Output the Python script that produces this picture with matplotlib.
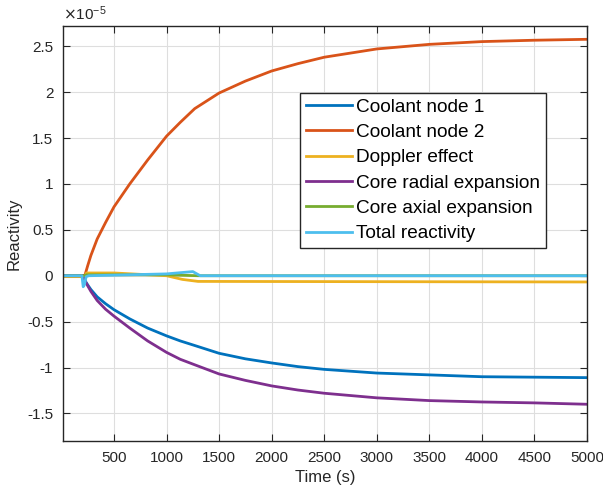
import numpy as np
import matplotlib
matplotlib.use("Agg")
import matplotlib.pyplot as plt

plt.rcParams['font.family'] = ['Liberation Sans', 'DejaVu Sans']

# 値は 1e-5 単位
t_main = [15, 215, 222, 250, 280, 340, 420, 500, 650, 820, 1000, 1130, 1268,
          1500, 1750, 2000, 2250, 2500, 3000, 3500, 4000, 4500, 5000]
coolant1 = [0, 0, -0.05, -0.10, -0.15, -0.23, -0.305, -0.37, -0.47, -0.57, -0.655, -0.71, -0.76,
            -0.845, -0.905, -0.95, -0.99, -1.02, -1.06, -1.08, -1.10, -1.105, -1.11]
coolant2 = [0, 0, 0, 0.11, 0.22, 0.40, 0.58, 0.75, 1.0, 1.26, 1.52, 1.67, 1.82,
            1.99, 2.12, 2.23, 2.31, 2.38, 2.47, 2.52, 2.55, 2.565, 2.575]
radial = [0, 0, -0.05, -0.11, -0.17, -0.27, -0.365, -0.44, -0.57, -0.71, -0.835, -0.91, -0.97,
          -1.07, -1.14, -1.20, -1.245, -1.28, -1.33, -1.36, -1.375, -1.385, -1.40]

t_doppler = [15, 215, 240, 500, 1000, 1150, 1300, 5000]
doppler = [-0.01, -0.01, 0.03, 0.03, 0.0, -0.04, -0.062, -0.068]

t_axial = [15, 215, 240, 1000, 1300, 5000]
axial = [0, 0, 0.01, 0.01, 0.0, 0.0]

t_total = [15, 195, 207, 218, 235, 260, 1000, 1250, 1320, 5000]
total = [0, 0, -0.12, -0.10, -0.01, 0.0, 0.02, 0.045, 0.0, 0.0]

x_ticks = [500, 1000, 1500, 2000, 2500, 3000, 3500, 4000, 4500, 5000]
y_ticks = [-1.5, -1, -0.5, 0, 0.5, 1, 1.5, 2, 2.5]

colors = ['#0072BD', '#D95319', '#EDB120', '#7E2F8E', '#77AC30', '#4DBEEE']

fig = plt.figure(figsize=(6.03, 4.97), dpi=100)
ax = fig.add_axes([0.1045, 0.1127, 0.869, 0.835])

lw = 2.0
ax.plot(t_main, coolant1, color=colors[0], lw=lw, label='Coolant node 1')
ax.plot(t_main, coolant2, color=colors[1], lw=lw, label='Coolant node 2')
ax.plot(t_doppler, doppler, color=colors[2], lw=lw, label='Doppler effect')
ax.plot(t_main, radial, color=colors[3], lw=lw, label='Core radial expansion')
ax.plot(t_axial, axial, color=colors[4], lw=lw, label='Core axial expansion')
ax.plot(t_total, total, color=colors[5], lw=lw, label='Total reactivity')

ax.set_xlim(15, 5000)
ax.set_ylim(-1.8, 2.72)
ax.set_xticks(x_ticks)
ax.set_yticks(y_ticks)
ax.set_yticklabels([f'{v:g}' for v in y_ticks])
ax.grid(True, color='#dedede', lw=0.8)
ax.set_axisbelow(True)

ax.tick_params(direction='in', length=5, width=0.8, top=True, right=True,
               labelsize=11, colors='#262626', pad=7)
for s in ax.spines.values():
    s.set_color('#262626')
    s.set_linewidth(1.0)

ax.set_xlabel('Time (s)', fontsize=12, color='#262626')
ax.set_ylabel('Reactivity', fontsize=12, color='#262626')
ax.text(0.0, 1.008, r'$\times\mathregular{10^{-5}}$', transform=ax.transAxes,
        fontsize=11, color='#262626', ha='left', va='bottom')

leg = ax.legend(loc='upper left', bbox_to_anchor=(0.452, 0.839), borderaxespad=0,
                fontsize=13.7, fancybox=False, framealpha=1, edgecolor='#262626',
                handlelength=2.45, handletextpad=0.22, labelspacing=0.42,
                borderpad=0.3)
leg.get_frame().set_linewidth(1.0)

fig.savefig('out.png', dpi=100)
